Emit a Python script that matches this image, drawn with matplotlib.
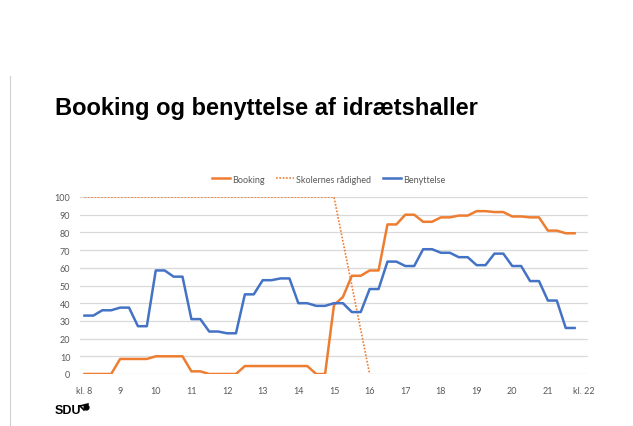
import numpy as np
import matplotlib
matplotlib.use("Agg")
import matplotlib.pyplot as plt
from matplotlib.lines import Line2D

# quarter-hour slots from 8:00 to 21:45
times = np.arange(8, 22, 0.25)

booking = [0, 0, 0, 0, 8.5, 8.5, 8.5, 8.5, 10, 10, 10, 10,
           1.5, 1.5, 0, 0, 0, 0, 4.5, 4.5, 4.5, 4.5, 4.5, 4.5,
           4.5, 4.5, 0, 0, 39, 43.5, 55.5, 55.5, 58.5, 58.5, 84.5, 84.5,
           90, 90, 86, 86, 88.5, 88.5, 89.5, 89.5, 92, 92, 91.5, 91.5,
           89, 89, 88.5, 88.5, 81, 81, 79.5, 79.5]
benyttelse = [33, 33, 36, 36, 37.5, 37.5, 27, 27, 58.5, 58.5, 55, 55,
              31, 31, 24, 24, 23, 23, 45, 45, 53, 53, 54, 54,
              40, 40, 38.5, 38.5, 40, 40, 35, 35, 48, 48, 63.5, 63.5,
              61, 61, 70.5, 70.5, 68.5, 68.5, 66, 66, 61.5, 61.5, 68, 68,
              61, 61, 52.5, 52.5, 41.5, 41.5, 26, 26]
raadighed_x = [8, 15, 16]
raadighed_y = [100, 100, 0]

hour_ticks = list(range(8, 23))
hour_labels = ["kl. 8"] + [str(h) for h in range(9, 22)] + ["kl. 22"]

orange = "#ED7D31"
blue = "#4472C4"
grey_txt = "#595959"

fig = plt.figure(figsize=(6.33, 4.27), dpi=100)
ax = fig.add_axes([80 / 633, 52 / 427, 508 / 633, 177 / 427])

ax.plot(times, booking, color=orange, lw=1.8, label="Booking", solid_joinstyle="round")
ax.plot(raadighed_x, raadighed_y, color=orange, lw=1.2, linestyle=(0, (1, 1)),
        label="Skolernes rådighed")
ax.plot(times, benyttelse, color=blue, lw=1.8, label="Benyttelse", solid_joinstyle="round")

ax.set_xlim(7.875, 22.125)
ax.set_ylim(0, 100)
ax.set_yticks(range(0, 101, 10))
ax.set_xticks(hour_ticks)
ax.set_xticklabels(hour_labels)
ax.grid(axis="y", color="#d9d9d9", lw=0.9)
ax.set_axisbelow(True)
for s in ax.spines.values():
    s.set_visible(False)
ax.tick_params(length=0, labelsize=6.5, labelcolor=grey_txt, pad=7)
ax.tick_params(axis="x", pad=9)
for lab in ax.get_xticklabels() + ax.get_yticklabels():
    lab.set_fontfamily("Lato")

leg = ax.legend(loc="lower center", bbox_to_anchor=(0.489, 1.03), ncol=3, frameon=False,
                prop={"family": "Lato", "size": 6.5}, handlelength=2.0, handletextpad=0.2,
                columnspacing=1.3)
for t in leg.get_texts():
    t.set_color(grey_txt)

fig.text(55 / 633, 1 - 115 / 427, "Booking og benyttelse af idrætshaller",
         fontsize=17, fontweight="bold", family="Liberation Sans", color="black")

# SDU logo, roughly
fig.text(55 / 633, 1 - 414 / 427, "SDU", fontsize=9, fontweight="bold",
         family="Liberation Sans", color="black")
fig.add_artist(Line2D([80 / 633, 88 / 633], [1 - 407 / 427, 1 - 405 / 427],
                      color="black", lw=1.2))
fig.add_artist(Line2D([80 / 633, 84 / 633], [1 - 407 / 427, 1 - 411 / 427],
                      color="black", lw=1.2))
fig.add_artist(Line2D([86 / 633], [1 - 408 / 427], marker="o", ms=3.5,
                      color="black", lw=0))

# thin slide edge line
fig.add_artist(Line2D([9.5 / 633, 9.5 / 633], [0, 1 - 77 / 427], color="#d0d0d0", lw=0.8))

fig.savefig("out.png", dpi=100, facecolor="white")
